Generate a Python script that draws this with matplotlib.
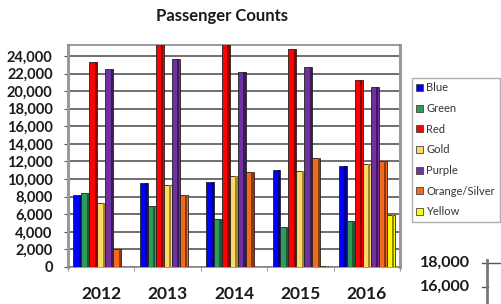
import numpy as np
import matplotlib
matplotlib.use("Agg")
import matplotlib.pyplot as plt
from matplotlib.patches import Patch
from matplotlib.lines import Line2D

plt.rcParams['font.family'] = ['Lato', 'DejaVu Sans']

# -- data -------------------------------------------------------
years = ['2012', '2013', '2014', '2015', '2016']
lines = ['Blue', 'Green', 'Red', 'Gold', 'Purple', 'Orange/Silver', 'Yellow']

blue   = [8200, 9600, 9700, 11000, 11500]
green  = [8400, 6900, 5500, 4500, 5200]
red    = [23300, 26500, 26500, 24800, 21300]
gold   = [7300, 9300, 10400, 10900, 11700]
purple = [22500, 23700, 22200, 22800, 20500]
orange = [2000, 8200, 10800, 12400, 12100]
yellow = [0, 0, 0, 100, 5900]

series = [blue, green, red, gold, purple, orange, yellow]
colors = ['#0000ff', '#2e9b5a', '#ff0000', '#ffd966', '#7030a0', '#f26b1d', '#ffff00']
dark   = ['#00008a', '#1a5a34', '#8a0000', '#a08430', '#3c1a58', '#8a3a0c', '#8a8a00']

inset_ticks = ['18,000', '16,000']

# -- figure -----------------------------------------------------
W, H = 501, 304
fig = plt.figure(figsize=(W / 100, H / 100), dpi=100)
ax = fig.add_axes((68 / W, 1 - 267 / H, 332 / W, 222 / H))

x = np.arange(len(years))
bw = 0.12
for k, (vals, c, d) in enumerate(zip(series, colors, dark)):
    pos = x + (k - 3) * bw
    ax.bar(pos, vals, width=bw, color=c, edgecolor='#222222', linewidth=0.6, zorder=3)
    # darker side face for the 3d look
    ax.bar(pos + bw * 0.32, vals, width=bw * 0.28, color=d, linewidth=0, zorder=3.5)

ax.set_xlim(-0.5, len(years) - 0.5)
ax.set_ylim(0, 25250)
ax.set_yticks(np.arange(0, 24001, 2000))
ax.set_yticklabels([f'{v:,}' for v in range(0, 24001, 2000)],
                   fontsize=10.5, fontweight='bold', color='#1a1a1a')
ax.set_xticks(x)
ax.set_xticklabels(years, fontsize=12.5, fontweight='bold', color='#1a1a1a')
ax.tick_params(axis='x', length=0, pad=14)
ax.tick_params(axis='y', length=3, color='#555555', pad=8)
ax.set_xticks(np.arange(-0.5, len(years), 1), minor=True)
ax.tick_params(axis='x', which='minor', length=3, color='#888888')

ax.grid(axis='y', color='#6f6f6f', linewidth=1.4, zorder=0)
for s in ['left', 'right']:
    ax.spines[s].set_color('#9a9a9a')
    ax.spines[s].set_linewidth(2.2)
ax.spines['top'].set_color('#8a8a8a')
ax.spines['top'].set_linewidth(1.2)
ax.spines['bottom'].set_color('#8a8a8a')
ax.spines['bottom'].set_linewidth(1.2)

fig.text(222 / W, 1 - 16 / H, 'Passenger Counts', ha='center', va='center',
         fontsize=12, fontweight='bold', color='#1a1a1a')

# -- legend -----------------------------------------------------
handles = [Patch(facecolor=c, edgecolor='#444444', linewidth=0.6) for c in colors]
leg = fig.legend(handles, lines, loc='upper left', bbox_to_anchor=(412 / W, 1 - 78 / H),
                 fontsize=8, frameon=True, fancybox=False, handlelength=0.6,
                 handleheight=0.6, handletextpad=0.3, labelspacing=0.87,
                 borderpad=0.4, borderaxespad=0)
leg.get_frame().set_edgecolor('#9a9a9a')
leg.get_frame().set_linewidth(1.0)
for t in leg.get_texts():
    t.set_color('#333333')

# -- corner of the next chart -----------------------------------
for i, lab in enumerate(inset_ticks):
    fig.text(470 / W, 1 - (263 + 24 * i) / H, lab, ha='right', va='center',
             fontsize=11.5, fontweight='bold', color='#1a1a1a')
fig.add_artist(Line2D([482 / W, 501 / W], [1 - 263 / H, 1 - 263 / H], color='#555555', lw=1))
fig.add_artist(Line2D([482 / W, 488 / W], [1 - 287 / H, 1 - 287 / H], color='#555555', lw=1))
fig.add_artist(Line2D([487 / W, 487 / W], [1 - 260 / H, 0], color='#777777', lw=2))

fig.savefig('out.png', dpi=100)
